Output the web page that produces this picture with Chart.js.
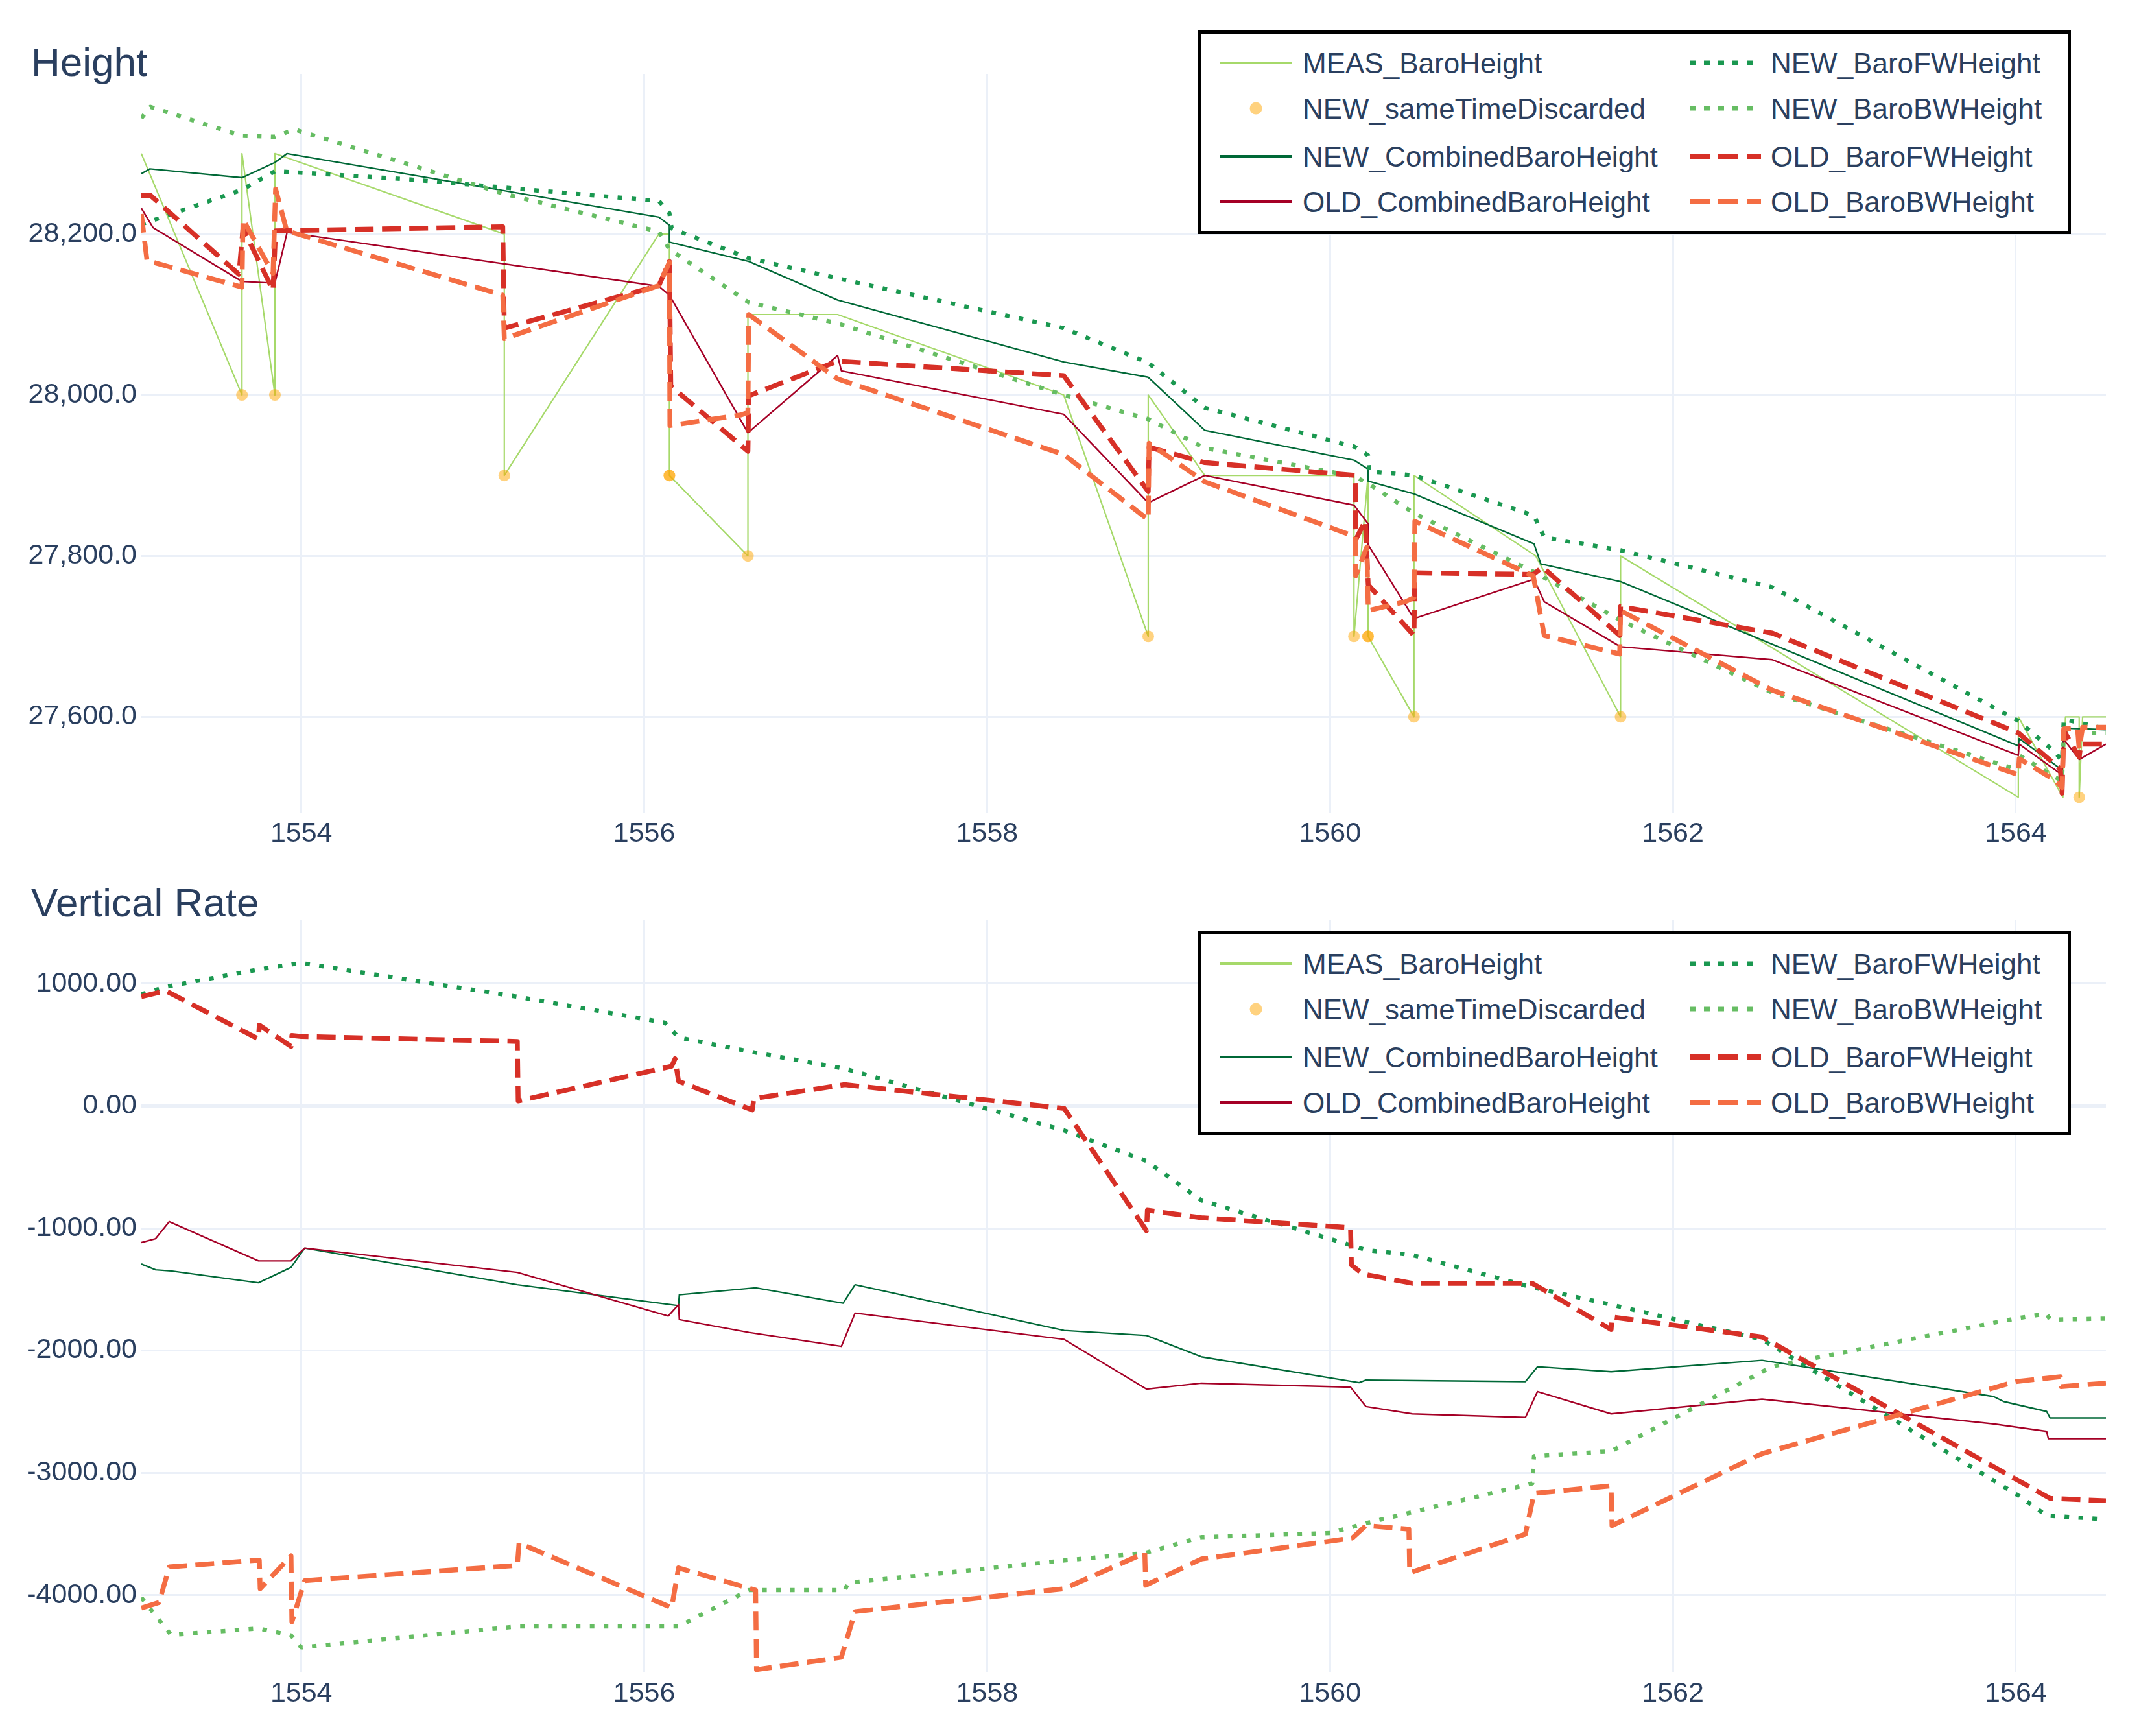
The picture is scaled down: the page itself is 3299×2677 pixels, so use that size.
<!DOCTYPE html>
<html>
<head>
<meta charset="utf-8">
<title>Height / Vertical Rate</title>
<script src="https://cdn.jsdelivr.net/npm/chart.js@4.4.1/dist/chart.umd.min.js"></script>
<style>
  body { margin: 0; background: #fff; }
  #page { position: relative; width: 3299px; height: 2677px; background: #fff;
          font-family: "Liberation Sans", Arial, sans-serif; color: #2a3f5f; overflow: hidden; }
  #page canvas { position: absolute; left: 0; }
  .title { position: absolute; left: 48px; font-size: 62px; line-height: 1; white-space: nowrap; }
  .legend { position: absolute; left: 1848px; width: 1346px; height: 314px; box-sizing: border-box;
            border: 5px solid #000; background: #fff; }
  .legend svg { position: absolute; }
  .legend span { position: absolute; font-size: 44px; line-height: 1; white-space: nowrap; }
</style>
</head>
<body>
<div id="page">
  <div class="title" style="top:65px">Height</div>
  <canvas id="heightChart" width="3299" height="1340" style="top:0"></canvas>
  <div class="title" style="top:1361px">Vertical Rate</div>
  <canvas id="rateChart" width="3299" height="1337" style="top:1340px"></canvas>
</div>
<script>
// axis ticks
const timeTicks = [1554, 1556, 1558, 1560, 1562, 1564];
const heightTicks = [27600, 27800, 28000, 28200];
const rateTicks = [-4000, -3000, -2000, -1000, 0, 1000];

// ---- Height chart data (time in s, height in ft) ----
const measTime = [1553.067, 1553.654, 1553.654, 1553.846, 1553.846, 1555.184, 1555.184, 1556.086, 1556.147, 1556.147,
  1556.605, 1556.605, 1557.128, 1558.447, 1558.94, 1558.94, 1559.27, 1560.14, 1560.14, 1560.222, 1560.222, 1560.49,
  1560.49, 1561.2, 1561.695, 1561.695, 1564.015, 1564.015, 1564.275, 1564.29, 1564.37, 1564.37, 1564.39, 1564.526];
const measHeight = [28300, 28000, 28300, 28000, 28300, 28200, 27900, 28200, 28200, 27900,
  27800, 28100, 28100, 28000, 27700, 28000, 27900, 27900, 27700, 27900, 27700, 27600,
  27900, 27800, 27600, 27800, 27500, 27600, 27500, 27600, 27600, 27500, 27600, 27600];

const discardTime = [1553.654, 1553.846, 1555.184, 1556.147, 1556.147, 1556.605, 1558.94, 1560.14, 1560.222, 1560.222,
  1560.49, 1561.695, 1564.37];
const discardHeight = [28000, 28000, 27900, 27900, 27900, 27800, 27700, 27700, 27700, 27700,
  27600, 27600, 27500];

const newCombTime = [1553.067, 1553.117, 1553.654, 1553.846, 1553.917, 1556.086, 1556.147, 1556.147, 1556.61, 1557.128,
  1558.447, 1558.94, 1559.27, 1560.14, 1560.222, 1560.222, 1560.49, 1561.19, 1561.23, 1561.695,
  1564.015, 1564.02, 1564.27, 1564.28, 1564.526];
const newCombHeight = [28275, 28281, 28270, 28289, 28300, 28221, 28211, 28190, 28166, 28118,
  28041, 28022, 27956, 27919, 27908, 27893, 27877, 27815, 27790, 27768,
  27564, 27573, 27534, 27586, 27584];

const oldCombTime = [1553.067, 1553.135, 1553.654, 1553.846, 1553.917, 1556.086, 1556.147, 1556.605, 1557.128, 1557.15,
  1558.447, 1558.94, 1559.27, 1560.14, 1560.222, 1560.222, 1560.49, 1561.19, 1561.25, 1561.695,
  1562.58, 1564.015, 1564.02, 1564.27, 1564.28, 1564.37, 1564.526];
const oldCombHeight = [28232, 28208, 28141, 28139, 28202, 28135, 28124, 27953, 28049, 28030,
  27976, 27866, 27900, 27863, 27840, 27814, 27722, 27771, 27743, 27687,
  27671, 27552, 27566, 27528, 27572, 27547, 27566];

const newFwTime = [1553.067, 1553.654, 1553.846, 1553.94, 1554.63, 1556.086, 1556.147, 1556.16, 1556.61, 1557.128,
  1558.447, 1558.94, 1559.27, 1560.14, 1560.222, 1560.23, 1560.49, 1561.19, 1561.25, 1561.695,
  1562.58, 1564.015, 1564.03, 1564.23, 1564.27, 1564.28, 1564.526];
const newFwHeight = [28212, 28255, 28278, 28277, 28268, 28241, 28226, 28207, 28170, 28145,
  28083, 28040, 27984, 27936, 27925, 27905, 27900, 27850, 27823, 27807,
  27761, 27595, 27592, 27556, 27545, 27597, 27585];

const newBwTime = [1553.067, 1553.12, 1553.654, 1553.846, 1553.96, 1555.184, 1556.086, 1556.147, 1556.61, 1557.128,
  1558.447, 1558.94, 1559.27, 1560.14, 1560.222, 1560.49, 1561.19, 1561.695, 1562.58, 1564.015,
  1564.02, 1564.27, 1564.28, 1564.526];
const newBwHeight = [28344, 28358, 28322, 28321, 28330, 28250, 28203, 28181, 28115, 28089,
  28000, 27970, 27934, 27899, 27890, 27853, 27780, 27720, 27630, 27534,
  27552, 27520, 27580, 27580];

const oldFwTime = [1553.067, 1553.12, 1553.636, 1553.66, 1553.835, 1553.85, 1555.175, 1555.184, 1556.086, 1556.147,
  1556.155, 1556.605, 1556.61, 1557.128, 1558.447, 1558.94, 1558.945, 1559.27, 1560.147, 1560.15,
  1560.206, 1560.223, 1560.49, 1560.495, 1561.186, 1561.24, 1561.69, 1561.695, 1562.58, 1564.015,
  1564.26, 1564.27, 1564.28, 1564.37, 1564.38, 1564.526];
const oldFwHeight = [28248, 28248, 28150, 28207, 28130, 28204, 28209, 28083, 28136, 28166,
  28011, 27930, 27999, 28042, 28024, 27880, 27935, 27916, 27900, 27820,
  27844, 27764, 27701, 27779, 27777, 27786, 27701, 27737, 27704, 27580,
  27535, 27505, 27583, 27550, 27566, 27566];

const oldBwTime = [1553.067, 1553.1, 1553.654, 1553.66, 1553.835, 1553.85, 1553.915, 1555.175, 1555.184, 1556.086,
  1556.147, 1556.15, 1556.56, 1556.605, 1556.61, 1557.128, 1558.447, 1558.94, 1558.945, 1559.27,
  1560.147, 1560.15, 1560.215, 1560.223, 1560.44, 1560.49, 1560.495, 1561.186, 1561.25, 1561.69,
  1561.695, 1562.58, 1564.015, 1564.02, 1564.23, 1564.27, 1564.28, 1564.36, 1564.37, 1564.39, 1564.526];
const oldBwHeight = [28225, 28167, 28134, 28218, 28151, 28256, 28204, 28124, 28070, 28136,
  28165, 27962, 27975, 27978, 28100, 28020, 27926, 27845, 27940, 27892,
  27824, 27775, 27811, 27732, 27743, 27748, 27843, 27775, 27701, 27678,
  27732, 27633, 27528, 27548, 27521, 27512, 27585, 27586, 27560, 27587, 27587];

// ---- Vertical rate chart data (ft/min) ----
const newCombRateTime = [1553.067, 1553.15, 1553.24, 1553.75, 1553.94, 1554.02, 1555.26, 1556.2, 1556.205, 1556.65,
  1557.16, 1557.23, 1558.45, 1558.93, 1559.25, 1560.17, 1560.21, 1561.14, 1561.21, 1561.64,
  1562.52, 1563.87, 1563.93, 1564.18, 1564.2, 1564.526];
const newCombRate = [-1292, -1340, -1349, -1446, -1320, -1162, -1462, -1633, -1544, -1487,
  -1613, -1462, -1836, -1877, -2051, -2263, -2242, -2254, -2133, -2173,
  -2080, -2376, -2417, -2498, -2551, -2551];

const oldCombRateTime = [1553.067, 1553.15, 1553.23, 1553.75, 1553.94, 1554.02, 1555.26, 1556.14, 1556.2, 1556.205,
  1556.61, 1557.15, 1557.23, 1558.45, 1558.93, 1559.25, 1560.12, 1560.21, 1560.48, 1561.14,
  1561.21, 1561.64, 1562.52, 1563.87, 1564.18, 1564.19, 1564.526];
const oldCombRate = [-1117, -1085, -946, -1267, -1267, -1162, -1361, -1718, -1625, -1747,
  -1852, -1966, -1694, -1909, -2315, -2267, -2299, -2458, -2518, -2547,
  -2336, -2518, -2397, -2600, -2661, -2721, -2721];

const newFwRateTime = [1553.067, 1553.21, 1553.75, 1554.0, 1555.26, 1556.12, 1556.2, 1556.61, 1557.17, 1558.45,
  1558.93, 1559.25, 1560.12, 1560.21, 1560.48, 1561.18, 1561.64, 1562.52, 1564.02, 1564.18, 1564.526];
const newFwRate = [914, 975, 1117, 1170, 894, 682, 561, 447, 305, -200,
  -450, -772, -1137, -1178, -1219, -1483, -1625, -1909, -3190, -3350, -3380];

const newBwRateTime = [1553.067, 1553.24, 1553.75, 1553.94, 1554.0, 1555.26, 1556.2, 1556.61, 1557.17, 1557.19,
  1558.45, 1558.92, 1559.25, 1560.0, 1560.21, 1561.18, 1561.19, 1561.64, 1562.58, 1564.0,
  1564.18, 1564.2, 1564.526];
const newBwRate = [-4021, -4326, -4273, -4330, -4428, -4257, -4257, -3960, -3960, -3900,
  -3717, -3656, -3526, -3493, -3412, -3087, -2864, -2823, -2130, -1738,
  -1698, -1747, -1739];

const oldFwRateTime = [1553.067, 1553.21, 1553.75, 1553.755, 1553.94, 1553.945, 1554.0, 1555.26, 1555.265, 1556.16,
  1556.18, 1556.2, 1556.63, 1556.64, 1557.17, 1558.45, 1558.93, 1558.935, 1559.25, 1560.12,
  1560.125, 1560.19, 1560.48, 1561.18, 1561.64, 1561.645, 1562.52, 1564.2, 1564.526];
const oldFwRate = [894, 942, 548, 662, 487, 577, 569, 528, 41, 325,
  386, 203, -32, 61, 175, -20, -1020, -853, -914, -995,
  -1300, -1373, -1450, -1450, -1828, -1726, -1889, -3209, -3229];

const oldBwRateTime = [1553.067, 1553.17, 1553.23, 1553.755, 1553.76, 1553.94, 1553.945, 1554.02, 1555.26, 1555.27,
  1556.16, 1556.2, 1556.65, 1556.655, 1557.15, 1557.23, 1558.45, 1558.92, 1558.925, 1559.25,
  1560.13, 1560.21, 1560.46, 1560.465, 1561.14, 1561.19, 1561.64, 1561.645, 1562.52, 1564.0,
  1564.26, 1564.265, 1564.526];
const oldBwRate = [-4106, -4061, -3770, -3714, -3948, -3680, -4218, -3882, -3757, -3575,
  -4103, -3778, -3960, -4610, -4509, -4135, -3948, -3656, -3920, -3705,
  -3534, -3432, -3461, -3818, -3502, -3168, -3107, -3432, -2843, -2254,
  -2214, -2295, -2267];

// ---- styles ----
const styles = {
  MEAS_BaroHeight:        { color: '#a6d96a', width: 2.2, dash: [], legendWidth: 4, order: 9 },
  NEW_sameTimeDiscarded:  { color: 'rgba(255,165,0,0.5)', marker: true, order: 1 },
  NEW_CombinedBaroHeight: { color: '#006837', width: 2.4, dash: [], legendWidth: 4, order: 8 },
  OLD_CombinedBaroHeight: { color: '#a50026', width: 2.4, dash: [], legendWidth: 4, order: 7 },
  NEW_BaroFWHeight:       { color: '#1a9850', width: 6.5, dash: [7, 14.5], legendWidth: 7, legendDash: '9,13', order: 6 },
  NEW_BaroBWHeight:       { color: '#66bd63', width: 6.5, dash: [7, 14.5], legendWidth: 7, legendDash: '9,13', order: 5 },
  OLD_BaroFWHeight:       { color: '#d73027', width: 7.5, dash: [29, 13], legendWidth: 8, legendDash: '31,13', order: 4 },
  OLD_BaroBWHeight:       { color: '#f46d43', width: 7.5, dash: [29, 13], legendWidth: 8, legendDash: '31,13', order: 3 }
};
const legendColumns = [
  ['MEAS_BaroHeight', 'NEW_sameTimeDiscarded', 'NEW_CombinedBaroHeight', 'OLD_CombinedBaroHeight'],
  ['NEW_BaroFWHeight', 'NEW_BaroBWHeight', 'OLD_BaroFWHeight', 'OLD_BaroBWHeight']
];

const pts = (xs, ys) => xs.map((x, i) => ({ x: x, y: ys[i] }));

function lineSet(name, xs, ys) {
  const s = styles[name];
  return {
    label: name,
    data: pts(xs, ys),
    borderColor: s.color,
    borderWidth: s.width,
    borderDash: s.dash,
    borderCapStyle: 'butt',
    borderJoinStyle: 'round',
    pointRadius: 0,
    fill: false,
    tension: 0,
    clip: 0,
    order: s.order
  };
}

function markerSet(name, xs, ys) {
  const s = styles[name];
  return {
    label: name,
    data: pts(xs, ys),
    showLine: false,
    pointRadius: 9,
    pointBorderWidth: 0,
    pointBackgroundColor: s.color,
    pointBorderColor: s.color,
    clip: 0,
    order: s.order
  };
}

function makeLegend(top) {
  const box = document.createElement('div');
  box.className = 'legend';
  box.style.top = top + 'px';
  const rows = [45, 115, 189, 259];
  const sampleX = [29, 753];
  const textX = [156, 878];
  legendColumns.forEach((col, c) => {
    col.forEach((name, r) => {
      const s = styles[name];
      const svg = document.createElementNS('http://www.w3.org/2000/svg', 'svg');
      svg.setAttribute('width', '110');
      svg.setAttribute('height', '24');
      svg.style.left = sampleX[c] + 'px';
      svg.style.top = (rows[r] - 12) + 'px';
      if (s.marker) {
        const dot = document.createElementNS('http://www.w3.org/2000/svg', 'circle');
        dot.setAttribute('cx', '55');
        dot.setAttribute('cy', '12');
        dot.setAttribute('r', '9.5');
        dot.setAttribute('fill', s.color);
        svg.appendChild(dot);
      } else {
        const ln = document.createElementNS('http://www.w3.org/2000/svg', 'line');
        ln.setAttribute('x1', '0');
        ln.setAttribute('y1', '12');
        ln.setAttribute('x2', '110');
        ln.setAttribute('y2', '12');
        ln.setAttribute('stroke', s.color);
        ln.setAttribute('stroke-width', s.legendWidth);
        if (s.legendDash) ln.setAttribute('stroke-dasharray', s.legendDash);
        svg.appendChild(ln);
      }
      box.appendChild(svg);
      const txt = document.createElement('span');
      txt.textContent = name;
      txt.style.left = textX[c] + 'px';
      txt.style.top = (rows[r] - 21) + 'px';
      box.appendChild(txt);
    });
  });
  document.getElementById('page').appendChild(box);
}

const tickFont = { family: '"Liberation Sans", Arial, sans-serif', size: 43 };
const gridColor = '#ebf0f8';

function baseOptions(opts) {
  return {
    responsive: false,
    devicePixelRatio: 1,
    animation: false,
    events: [],
    layout: { padding: { top: opts.padTop, right: 51, left: 0, bottom: 0 } },
    plugins: { legend: { display: false }, tooltip: { enabled: false }, title: { display: false } },
    scales: {
      x: {
        type: 'linear',
        min: 1553.067,
        max: 1564.526,
        afterBuildTicks: (scale) => { scale.ticks = timeTicks.map(v => ({ value: v })); },
        afterFit: (scale) => { scale.height = opts.xHeight; },
        ticks: { color: '#2a3f5f', font: tickFont, padding: 7, maxRotation: 0, autoSkip: false,
                 callback: (v) => String(v) },
        grid: { color: gridColor, lineWidth: 3, drawTicks: false },
        border: { display: false }
      },
      y: {
        type: 'linear',
        min: opts.yMin,
        max: opts.yMax,
        afterBuildTicks: (scale) => { scale.ticks = opts.yTicks.map(v => ({ value: v })); },
        afterFit: (scale) => { scale.width = 218; },
        ticks: { color: '#2a3f5f', font: tickFont, padding: 7, autoSkip: false, callback: opts.yFormat },
        grid: { color: gridColor, lineWidth: opts.gridWidth, drawTicks: false },
        border: { display: false }
      }
    }
  };
}

function draw() {
  new Chart(document.getElementById('heightChart').getContext('2d'), {
    type: 'line',
    data: {
      datasets: [
        lineSet('MEAS_BaroHeight', measTime, measHeight),
        markerSet('NEW_sameTimeDiscarded', discardTime, discardHeight),
        lineSet('NEW_CombinedBaroHeight', newCombTime, newCombHeight),
        lineSet('OLD_CombinedBaroHeight', oldCombTime, oldCombHeight),
        lineSet('NEW_BaroFWHeight', newFwTime, newFwHeight),
        lineSet('NEW_BaroBWHeight', newBwTime, newBwHeight),
        lineSet('OLD_BaroFWHeight', oldFwTime, oldFwHeight),
        lineSet('OLD_BaroBWHeight', oldBwTime, oldBwHeight)
      ]
    },
    options: baseOptions({
      padTop: 114, xHeight: 87, yMin: 27481, yMax: 28399, yTicks: heightTicks, gridWidth: 3,
      yFormat: (v) => v.toLocaleString('en-US', { minimumFractionDigits: 1, maximumFractionDigits: 1 })
    })
  });

  new Chart(document.getElementById('rateChart').getContext('2d'), {
    type: 'line',
    data: {
      datasets: [
        lineSet('NEW_CombinedBaroHeight', newCombRateTime, newCombRate),
        lineSet('OLD_CombinedBaroHeight', oldCombRateTime, oldCombRate),
        lineSet('NEW_BaroFWHeight', newFwRateTime, newFwRate),
        lineSet('NEW_BaroBWHeight', newBwRateTime, newBwRate),
        lineSet('OLD_BaroFWHeight', oldFwRateTime, oldFwRate),
        lineSet('OLD_BaroBWHeight', oldBwRateTime, oldBwRate)
      ]
    },
    options: baseOptions({
      padTop: 78, xHeight: 98, yMin: -4633, yMax: 1525, yTicks: rateTicks,
      gridWidth: (ctx) => (ctx.tick && ctx.tick.value === 0 ? 5 : 3),
      yFormat: (v) => v.toFixed(2)
    })
  });

  makeLegend(47);
  makeLegend(1436);
}

if (document.fonts && document.fonts.load) {
  document.fonts.load('43px "Liberation Sans"').then(draw, draw);
} else {
  draw();
}
</script>
</body>
</html>
